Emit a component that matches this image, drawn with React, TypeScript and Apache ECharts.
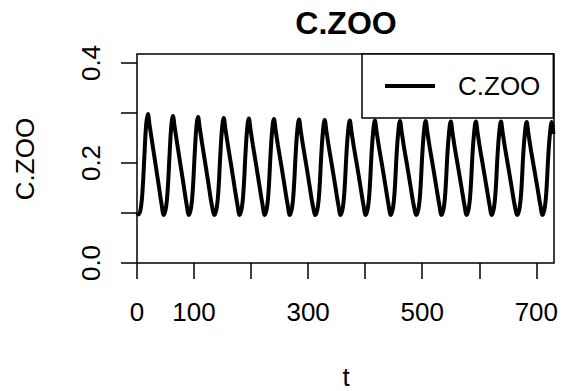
import React, { useEffect, useRef } from "react";
import * as echarts from "echarts";

const FONT = "'Liberation Sans', Arial, Helvetica, sans-serif";

const seriesName = "C.ZOO";
const xTicks = [0, 100, 200, 300, 400, 500, 600, 700];
const xLabels = [0, 100, 300, 500, 700];
const yTicks = [0, 0.1, 0.2, 0.3, 0.4];
const yLabels = [0, 0.2, 0.4];

// [t, C.ZOO]
const czoo: [number, number][] = [
  [0, 0.100], [3, 0.097], [7, 0.112], [10, 0.150], [13, 0.215], [16, 0.276], [19, 0.298], [22, 0.276], [26, 0.246], [32, 0.201], [38, 0.156], [43, 0.118],
  [47, 0.096], [51, 0.112], [54, 0.150], [57, 0.215], [60, 0.272], [63, 0.294], [66, 0.272], [70, 0.242], [76, 0.198], [82, 0.154], [87, 0.117],
  [91, 0.096], [95, 0.112], [98, 0.150], [101, 0.215], [104, 0.270], [107, 0.292], [110, 0.270], [114, 0.240], [120, 0.197], [126, 0.153], [131, 0.117],
  [136, 0.096], [140, 0.112], [143, 0.150], [146, 0.215], [149, 0.268], [152, 0.290], [155, 0.268], [159, 0.238], [165, 0.196], [171, 0.152], [176, 0.117],
  [180, 0.096], [184, 0.112], [187, 0.150], [190, 0.215], [193, 0.267], [196, 0.289], [199, 0.267], [203, 0.237], [209, 0.195], [215, 0.152], [220, 0.117],
  [224, 0.096], [228, 0.112], [231, 0.150], [234, 0.215], [237, 0.266], [240, 0.288], [243, 0.266], [247, 0.236], [253, 0.195], [259, 0.152], [264, 0.117],
  [268, 0.096], [272, 0.112], [275, 0.150], [278, 0.215], [281, 0.265], [284, 0.287], [287, 0.265], [291, 0.235], [297, 0.194], [303, 0.151], [308, 0.116],
  [313, 0.096], [317, 0.112], [320, 0.150], [323, 0.215], [326, 0.264], [329, 0.286], [332, 0.264], [336, 0.234], [342, 0.193], [348, 0.151], [353, 0.116],
  [357, 0.096], [361, 0.112], [364, 0.150], [367, 0.215], [370, 0.263], [373, 0.285], [376, 0.263], [380, 0.233], [386, 0.193], [392, 0.151], [397, 0.116],
  [401, 0.096], [405, 0.112], [408, 0.150], [411, 0.215], [414, 0.263], [417, 0.285], [420, 0.263], [424, 0.233], [430, 0.193], [436, 0.151], [441, 0.116],
  [445, 0.096], [449, 0.112], [452, 0.150], [455, 0.215], [458, 0.262], [461, 0.284], [464, 0.262], [468, 0.232], [474, 0.192], [480, 0.150], [485, 0.116],
  [490, 0.096], [494, 0.112], [497, 0.150], [500, 0.215], [503, 0.262], [506, 0.284], [509, 0.262], [513, 0.232], [519, 0.192], [525, 0.150], [530, 0.116],
  [534, 0.096], [538, 0.112], [541, 0.150], [544, 0.215], [547, 0.261], [550, 0.283], [553, 0.261], [557, 0.231], [563, 0.191], [569, 0.150], [574, 0.116],
  [578, 0.096], [582, 0.112], [585, 0.150], [588, 0.215], [591, 0.261], [594, 0.283], [597, 0.261], [601, 0.231], [607, 0.191], [613, 0.150], [618, 0.116],
  [622, 0.096], [626, 0.112], [629, 0.150], [632, 0.215], [635, 0.261], [638, 0.283], [641, 0.261], [645, 0.231], [651, 0.191], [657, 0.150], [662, 0.116],
  [667, 0.096], [671, 0.112], [674, 0.150], [677, 0.215], [680, 0.260], [683, 0.282], [686, 0.260], [690, 0.230], [696, 0.190], [702, 0.150], [707, 0.116],
  [711, 0.096], [715, 0.112], [718, 0.150], [721, 0.215], [724, 0.260], [727, 0.282], [730, 0.258],
];

export default function App() {
  const ref = useRef<HTMLDivElement>(null);
  useEffect(() => {
    if (!ref.current) return;
    const chart = echarts.init(ref.current, undefined, { renderer: "svg" });
    chart.setOption({
      animation: false,
      backgroundColor: "#ffffff",
      grid: {
        left: 137,
        top: 54,
        width: 417,
        height: 209,
        show: true,
        borderColor: "#000",
        borderWidth: 1.5,
        backgroundColor: "transparent",
      },
      xAxis: {
        type: "value",
        min: 0,
        max: 731,
        axisLine: { show: false },
        splitLine: { show: false },
        axisTick: {
          show: true,
          inside: false,
          length: 16,
          customValues: xTicks,
          lineStyle: { color: "#000", width: 1.5 },
        },
        axisLabel: {
          customValues: xLabels,
          color: "#000",
          fontSize: 26,
          fontFamily: FONT,
          margin: 36,
        },
      },
      yAxis: {
        type: "value",
        min: 0,
        max: 0.418,
        axisLine: { show: false },
        splitLine: { show: false },
        axisTick: {
          show: true,
          inside: false,
          length: 16,
          customValues: yTicks,
          lineStyle: { color: "#000", width: 1.5 },
        },
        axisLabel: {
          customValues: yLabels,
          rotate: 90,
          color: "#000",
          fontSize: 26,
          fontFamily: FONT,
          margin: 33,
          formatter: (v: number) => v.toFixed(1),
        },
      },
      legend: {
        show: true,
        left: 362,
        top: 54,
        orient: "vertical",
        padding: [19, 13, 19, 23],
        itemWidth: 50,
        itemHeight: 26,
        borderColor: "#000",
        borderWidth: 1.5,
        backgroundColor: "#fff",
        icon: "path://M0,0L50,0L50,4L0,4Z",
        itemStyle: { color: "#000" },
        data: [{ name: seriesName }],
        textStyle: {
          color: "#000",
          fontSize: 26,
          fontFamily: FONT,
          padding: [0, 0, 0, 18],
        },
      },
      graphic: [
        {
          type: "text",
          x: 346,
          y: 23,
          style: {
            text: "C.ZOO",
            fill: "#000",
            font: `bold 32px ${FONT}`,
            textAlign: "center",
            textVerticalAlign: "middle",
          },
        },
        {
          type: "text",
          x: 346,
          y: 377,
          style: {
            text: "t",
            fill: "#000",
            font: `26px ${FONT}`,
            textAlign: "center",
            textVerticalAlign: "middle",
          },
        },
        {
          type: "text",
          x: 25,
          y: 159,
          rotation: Math.PI / 2,
          style: {
            text: "C.ZOO",
            fill: "#000",
            font: `26px ${FONT}`,
            textAlign: "center",
            textVerticalAlign: "middle",
          },
        },
      ],
      series: [
        {
          name: seriesName,
          type: "line",
          data: czoo,
          smooth: 0.4,
          symbol: "none",
          showSymbol: false,
          lineStyle: { color: "#000", width: 4 },
          itemStyle: { color: "#000" },
        },
      ],
    });
    return () => chart.dispose();
  }, []);
  return (
    <div
      ref={ref}
      style={{ position: "fixed", left: 0, top: 0, width: 567, height: 391 }}
    />
  );
}
